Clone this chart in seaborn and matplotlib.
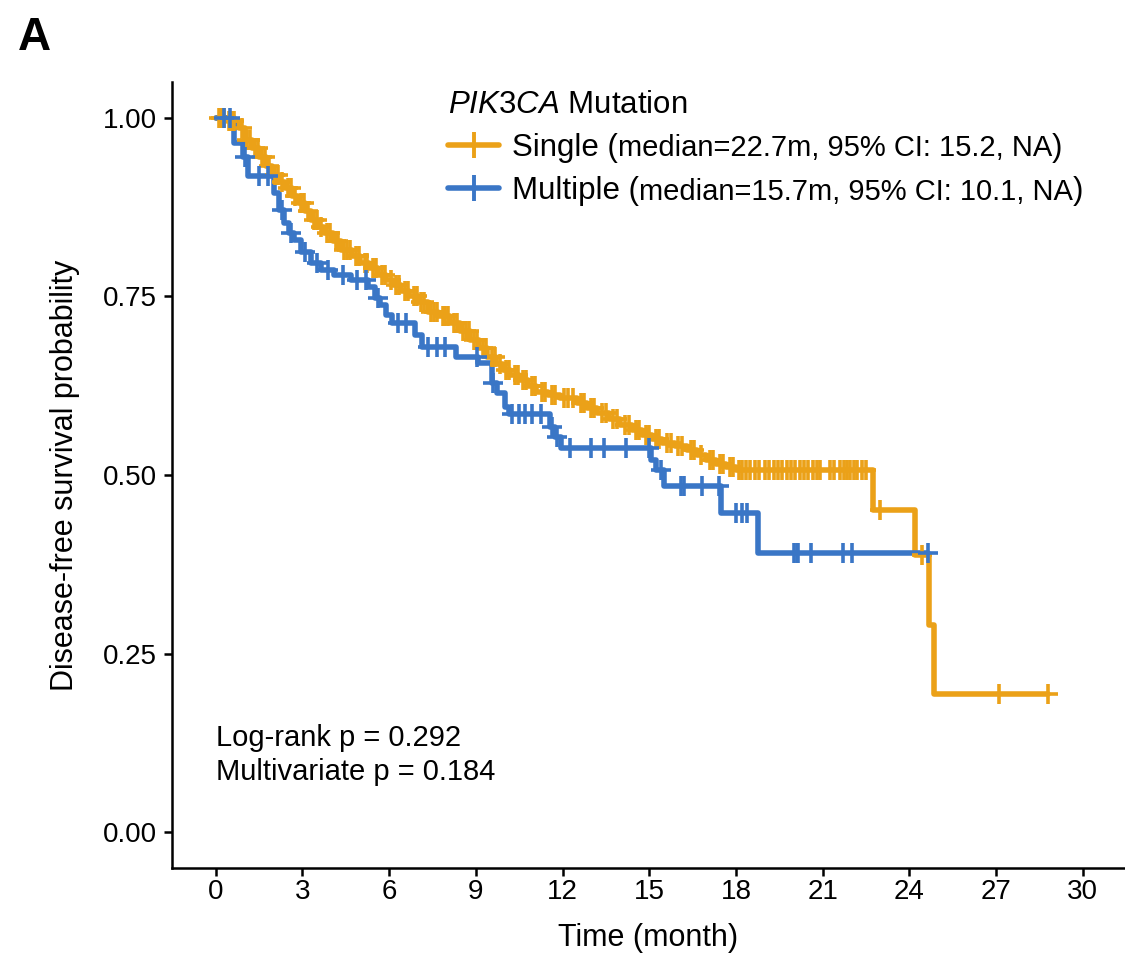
"""Kaplan-Meier style disease-free survival curves by PIK3CA mutation count."""

import matplotlib.pyplot as plt
import numpy as np
import seaborn as sns
from matplotlib.lines import Line2D

GROUPS = ("Single", "Multiple")
COLORS = {"Single": "#EBA118", "Multiple": "#3A76C6"}
MEDIAN_TEXT = {
    "Single": "median=22.7m, 95% CI: 15.2, NA",
    "Multiple": "median=15.7m, 95% CI: 10.1, NA",
}

# step curves: time of each drop (months) and survival after it
single_time = [0, 0.4, 0.8, 1.0, 1.25, 1.5, 1.75, 1.95, 2.2, 2.4, 2.65, 2.85, 3.1, 3.3, 3.55, 3.75,
               4.05, 4.35, 4.7, 5.0, 5.3, 5.6, 5.9, 6.15, 6.4, 6.7, 7.0, 7.35, 7.7, 8.1, 8.45, 8.8,
               9.1, 9.4, 9.7, 9.95, 10.2, 10.5, 10.8, 11.1, 11.5, 11.9, 12.5, 12.85, 13.2, 13.6,
               14.0, 14.4, 14.75, 15.1, 15.45, 15.9, 16.3, 16.65, 16.95, 17.3, 17.65, 18.0,
               22.73, 24.2, 24.68, 24.85]
single_surv = [1.0, 0.995, 0.985, 0.969, 0.957, 0.945, 0.932, 0.92, 0.91, 0.902, 0.891, 0.881,
               0.869, 0.857, 0.847, 0.839, 0.827, 0.815, 0.806, 0.797, 0.789, 0.78, 0.773, 0.766,
               0.758, 0.75, 0.742, 0.728, 0.722, 0.713, 0.702, 0.689, 0.678, 0.665, 0.655, 0.647,
               0.64, 0.633, 0.625, 0.616, 0.612, 0.608, 0.601, 0.594, 0.587, 0.578, 0.57, 0.563,
               0.556, 0.55, 0.545, 0.54, 0.535, 0.528, 0.521, 0.516, 0.511, 0.507,
               0.451, 0.388, 0.29, 0.193]
single_censor = [0.1, 0.2, 0.3, 0.45, 0.55, 0.65, 0.9, 1.1, 1.2, 1.35, 1.45, 1.6, 1.7, 1.85, 2.05,
                 2.15, 2.3, 2.5, 2.6, 2.75, 2.95, 3.05, 3.2, 3.4, 3.5, 3.65, 3.85, 3.95, 4.15, 4.25,
                 4.45, 4.55, 4.65, 4.85, 4.95, 5.15, 5.25, 5.45, 5.55, 5.75, 5.85, 6.05, 6.25, 6.35,
                 6.55, 6.65, 6.85, 6.95, 7.1, 7.2, 7.45, 7.55, 7.65, 7.85, 7.95, 8.05, 8.25, 8.35,
                 8.55, 8.65, 8.75, 8.95, 9.05, 9.25, 9.35, 9.55, 9.65, 9.85, 10.05, 10.15, 10.35,
                 10.45, 10.65, 10.75, 10.95, 11.05, 11.3, 11.4, 11.65, 11.75, 12.05, 12.2, 12.35,
                 12.65, 12.75, 13.0, 13.1, 13.35, 13.5, 13.75, 13.9, 14.15, 14.3, 14.55, 14.65,
                 14.9, 15.0, 15.25, 15.35, 15.6, 15.75, 16.0, 16.15, 16.45, 16.55, 16.8, 17.1,
                 17.2, 17.45, 17.55, 17.8, 17.9, 18.1, 18.2, 18.35, 18.5, 18.65, 18.8, 19.0, 19.15,
                 19.3, 19.45, 19.6, 19.75, 19.9, 20.05, 20.2, 20.35, 20.5, 20.65, 20.8, 20.9, 21.25,
                 21.4, 21.6, 21.75, 21.85, 21.95, 22.1, 22.2, 22.35, 22.5, 23.0, 24.43, 27.1, 28.8]

multiple_time = [0, 0.65, 0.96, 1.13, 2.03, 2.2, 2.37, 2.55, 2.72, 2.96, 3.3, 3.65, 4.1, 4.68,
                 5.26, 5.5, 5.7, 5.9, 6.1, 6.9, 7.15, 8.3, 9.08, 9.55, 9.75, 10.0, 10.15, 11.57,
                 11.75, 11.95, 15.07, 15.24, 15.5, 17.47, 18.78]
multiple_surv = [1.0, 0.965, 0.945, 0.918, 0.895, 0.871, 0.853, 0.839, 0.829, 0.812, 0.797,
                 0.787, 0.78, 0.773, 0.763, 0.748, 0.738, 0.724, 0.713, 0.696, 0.679, 0.665,
                 0.657, 0.629, 0.615, 0.595, 0.586, 0.567, 0.553, 0.538, 0.521, 0.507, 0.485,
                 0.447, 0.391]
multiple_censor = [0.3, 0.5, 1.0, 1.5, 1.8, 2.3, 2.6, 3.1, 3.5, 3.9, 4.4, 4.9, 5.2, 5.6, 6.3, 6.6,
                   7.35, 7.65, 7.95, 9.05, 9.6, 10.25, 10.5, 10.7, 10.95, 11.25, 11.65, 11.8,
                   12.25, 13.0, 13.45, 14.2, 15.0, 15.4, 16.1, 16.2, 16.82, 17.4, 18.0, 18.2, 18.4,
                   20.0, 20.1, 20.15, 20.6, 21.7, 22.0, 24.65]

X_TICKS = list(range(0, 31, 3))
Y_TICKS = [0.0, 0.25, 0.5, 0.75, 1.0]
P_TEXT = "Log-rank p = 0.292\nMultivariate p = 0.184"

W, H = 1125, 971


def step_at(times, surv, t):
    idx = np.searchsorted(times, t, side="right") - 1
    return np.asarray(surv)[idx]


def draw_curve(ax, times, surv, censor, color):
    end = max(censor[-1], times[-1])
    x = list(times) + [end]
    y = list(surv) + [surv[-1]]
    sns.lineplot(x=x, y=y, drawstyle="steps-post", sort=False, estimator=None,
                 color=color, linewidth=4.0, ax=ax)
    sns.scatterplot(x=censor, y=step_at(times, surv, censor), marker="+", s=200,
                    linewidth=2.6, color=color, ax=ax, zorder=3)


def main() -> None:
    sns.set_style("ticks")
    plt.rcParams["font.family"] = ["Liberation Sans", "DejaVu Sans"]
    plt.rcParams["mathtext.fontset"] = "custom"
    plt.rcParams["mathtext.it"] = "Liberation Sans:italic"
    plt.rcParams["mathtext.rm"] = "Liberation Sans"
    plt.rcParams["text.color"] = "black"
    plt.rcParams["axes.labelcolor"] = "black"

    fig = plt.figure(figsize=(W / 100, H / 100), dpi=100)
    ax = fig.add_axes([172 / W, 1 - 868 / H, (W - 172) / W, (868 - 82) / H])

    draw_curve(ax, single_time, single_surv, single_censor, COLORS["Single"])
    draw_curve(ax, multiple_time, multiple_surv, multiple_censor, COLORS["Multiple"])

    ax.set_xlim(-1.51, 31.46)
    ax.set_ylim(-0.05, 1.05)
    ax.set_xticks(X_TICKS)
    ax.set_yticks(Y_TICKS)
    ax.set_yticklabels([f"{v:.2f}" for v in Y_TICKS])
    ax.tick_params(labelsize=20, width=1.8, length=6, color="black", labelcolor="black", pad=5)
    ax.tick_params(axis="x", pad=2)
    for side in ("top", "right"):
        ax.spines[side].set_visible(False)
    for side in ("left", "bottom"):
        ax.spines[side].set_linewidth(1.8)
        ax.spines[side].set_color("black")
    ax.set_xlabel("Time (month)", fontsize=22, labelpad=13)
    ax.set_ylabel("Disease-free survival probability", fontsize=22, labelpad=16)

    ax.text(0, 0.108, P_TEXT, fontsize=21, va="center", ha="left", linespacing=1.25)

    handles = [Line2D([], [], color=COLORS[g], linewidth=4.0, marker="+", markersize=19,
                      markeredgewidth=2.8) for g in GROUPS]
    leg = ax.legend(handles, [f"{g} (" for g in GROUPS], title=r"$\mathit{PIK3CA}$ Mutation",
                    loc="upper left", bbox_to_anchor=((440 - 172) / (W - 172), 1.0),
                    frameon=False, fontsize=22.5, title_fontsize=22.5, alignment="left",
                    handlelength=1.65, handletextpad=0.4, labelspacing=0.42,
                    borderpad=0.25, borderaxespad=0)
    for g, txt in zip(GROUPS, leg.get_texts()):
        small = ax.annotate(MEDIAN_TEXT[g], xy=(1, 0), xycoords=txt, xytext=(0, 0.35),
                            textcoords="offset points", fontsize=21, va="bottom", ha="left",
                            zorder=10)
        ax.annotate(")", xy=(1, 0), xycoords=small, xytext=(0, -0.35),
                    textcoords="offset points", fontsize=22.5, va="bottom", ha="left", zorder=10)

    fig.text(18 / W, 1 - 38 / H, "A", fontsize=33, fontweight="bold", va="center", ha="left")

    fig.savefig("out.png", dpi=100)
    plt.close(fig)


if __name__ == "__main__":
    main()
